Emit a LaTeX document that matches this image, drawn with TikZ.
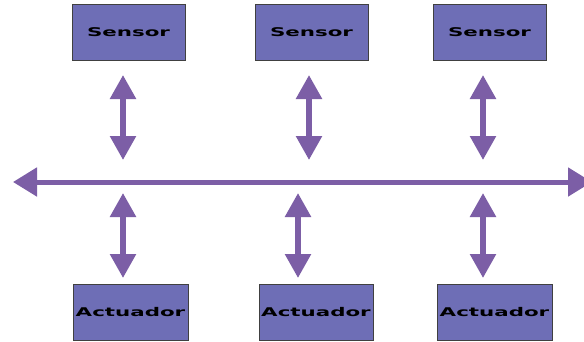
\documentclass[tikz,border=0pt]{standalone}
\usepackage{fontspec}
\setmainfont{DejaVu Sans}
\usetikzlibrary{arrows.meta}
\definecolor{boxfill}{RGB}{110,110,182}
\definecolor{arrowcol}{RGB}{124,94,166}
\tikzset{
  unitbox/.style={draw=black!75, line width=0.9pt, fill=boxfill, minimum width=113pt, minimum height=56pt, inner sep=0pt,
    font=\bfseries\fontsize{12}{12}\selectfont},
  vlink/.style={arrowcol, line width=5.5pt, {Triangle[length=24pt,width=25pt]}-{Triangle[length=24pt,width=25pt]}},
  buslink/.style={arrowcol, line width=5pt, {Triangle[length=24pt,width=28pt]}-{Triangle[length=24pt,width=28pt]}}
}
\newcommand{\wide}[1]{\scalebox{1.78}[1]{#1}}
\begin{document}
\begin{tikzpicture}[x=1pt,y=-1pt]
\clip (0,0) rectangle (584,341);
\fill[white] (0,0) rectangle (584,341);
% sensors
\node[unitbox] (s1) at (128.5,32.5) {\wide{Sensor}};
\node[unitbox] (s2) at (311.5,32.5) {\wide{Sensor}};
\node[unitbox] (s3) at (489.5,32.5) {\wide{Sensor}};
% actuators
\node[unitbox, minimum width=115pt] (a1) at (130.5,312) {\wide{Actuador}};
\node[unitbox, minimum width=114pt] (a2) at (316,312) {\wide{Actuador}};
\node[unitbox, minimum width=115pt] (a3) at (494.5,312) {\wide{Actuador}};
% bus
\coordinate (busL) at (13,182);
\coordinate (busR) at (592,182);
\draw[buslink] (busL) -- (busR);
% link coordinates
\coordinate (s1b) at (123,75);  \coordinate (s1u) at (123,160);
\coordinate (s2b) at (309,75);  \coordinate (s2u) at (309,160);
\coordinate (s3b) at (483,75);  \coordinate (s3u) at (483,160);
\coordinate (a1d) at (123,193); \coordinate (a1t) at (123,278);
\coordinate (a2d) at (298,193); \coordinate (a2t) at (298,278);
\coordinate (a3d) at (483,193); \coordinate (a3t) at (483,278);
\draw[vlink] (s1b) -- (s1u);
\draw[vlink] (s2b) -- (s2u);
\draw[vlink] (s3b) -- (s3u);
\draw[vlink] (a1d) -- (a1t);
\draw[vlink] (a2d) -- (a2t);
\draw[vlink] (a3d) -- (a3t);
\end{tikzpicture}
\end{document}
